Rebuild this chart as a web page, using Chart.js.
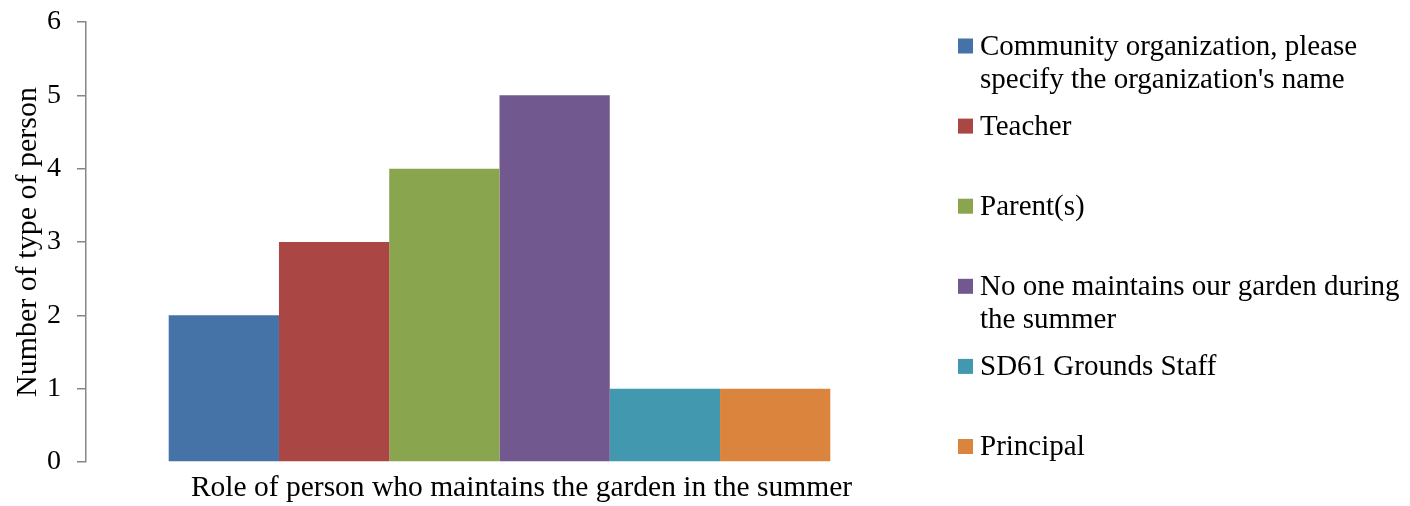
<!DOCTYPE html>
<html>
<head>
<meta charset="utf-8">
<script src="https://cdn.jsdelivr.net/npm/chart.js@4/dist/chart.umd.min.js"></script>
<style>
  html, body { margin: 0; padding: 0; background: #fff; }
  #wrap { width: 1410px; height: 506px; position: relative; }
</style>
</head>
<body>
<div id="wrap"><canvas id="roleChart"></canvas></div>
<script>
const categories = ['Role of person who maintains the garden in the summer'];
const seriesNames = [
    "Community organization, please specify the organization's name",
    'Teacher',
    'Parent(s)',
    'No one maintains our garden during the summer',
    'SD61 Grounds Staff',
    'Principal'
];
const seriesValues = [2, 3, 4, 5, 1, 1];
const seriesColors = ['#4572A7', '#AA4643', '#89A54E', '#71588F', '#4198AF', '#DB843D'];
const yMin = 0, yMax = 6, yStep = 1;

const FONT = '"Liberation Serif", "Times New Roman", serif';

// legend drawn by hand so long names can wrap like the original
const sideLegend = {
    id: 'sideLegend',
    afterDraw(chart) {
        const c = chart.ctx;
        const x0 = 958, box = 14, textX = 980, maxW = 440;
        const firstY = 47, step = 80.1, lineH = 33;
        c.save();
        c.font = '29px ' + FONT;
        c.textBaseline = 'middle';
        chart.data.datasets.forEach((ds, i) => {
            const y = firstY + i * step;
            c.fillStyle = ds.backgroundColor;
            c.fillRect(x0, y - 1.5 - box / 2, box + 1, box + 1);
            // wrap words
            const words = ds.label.split(' ');
            const lines = [];
            let cur = '';
            words.forEach(w => {
                const t = cur ? cur + ' ' + w : w;
                if (c.measureText(t).width > maxW && cur) {
                    lines.push(cur);
                    cur = w;
                } else {
                    cur = t;
                }
            });
            lines.push(cur);
            c.fillStyle = '#000';
            lines.forEach((ln, j) => c.fillText(ln, textX, y + j * lineH));
        });
        c.restore();
    }
};

const ctx = document.getElementById('roleChart').getContext('2d');

const roleChart = new Chart(ctx, {
    type: 'bar',
    data: {
        labels: categories,
        datasets: seriesNames.map((name, i) => ({
            label: name,
            data: [seriesValues[i]],
            backgroundColor: seriesColors[i],
            borderWidth: 0
        }))
    },
    options: {
        responsive: true,
        maintainAspectRatio: false,
        animation: false,
        categoryPercentage: 0.8,
        barPercentage: 1.0,
        layout: {
            padding: { left: 10, right: 497, top: 22, bottom: 0 }
        },
        plugins: {
            legend: { display: false },
            tooltip: { enabled: false }
        },
        scales: {
            x: {
                grid: { display: false, drawTicks: false },
                border: { display: false },
                afterFit: (scale) => { scale.height = 44; },
                ticks: {
                    color: '#000',
                    font: { family: FONT, size: 29.5 },
                    padding: 9,
                    labelOffset: 22,
                    maxRotation: 0,
                    autoSkip: false
                }
            },
            y: {
                min: yMin,
                max: yMax,
                afterFit: (scale) => {
                    scale.width = 76;
                    scale.paddingTop = 0;
                },
                grid: {
                    drawOnChartArea: false,
                    drawTicks: true,
                    tickLength: 9,
                    color: '#868686',
                    lineWidth: 1.5
                },
                border: { color: '#868686', width: 1.5 },
                ticks: {
                    stepSize: yStep,
                    color: '#000',
                    padding: 16,
                    font: { family: FONT, size: 28 }
                },
                title: {
                    display: true,
                    text: 'Number of type of person',
                    color: '#000',
                    font: { family: FONT, size: 30 },
                    padding: { top: 0, bottom: 0 }
                }
            }
        }
    },
    plugins: [sideLegend]
});
</script>
</body>
</html>
